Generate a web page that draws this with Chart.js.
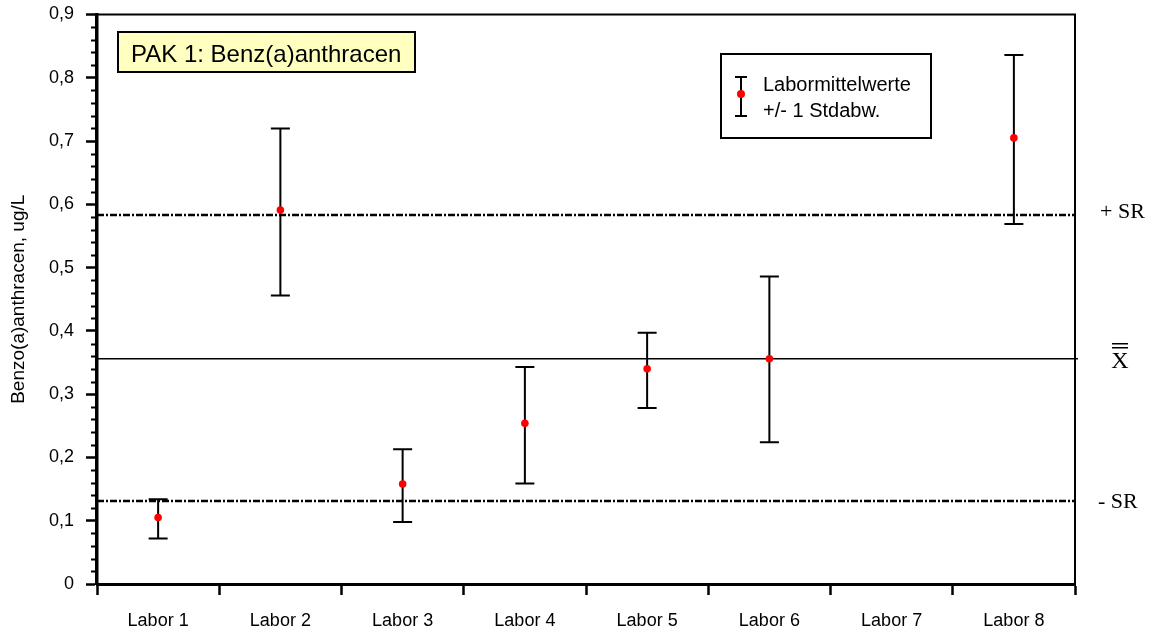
<!DOCTYPE html>
<html>
<head>
<meta charset="utf-8">
<script src="https://cdn.jsdelivr.net/npm/chart.js@4/dist/chart.umd.min.js"></script>
<style>
  html, body { margin: 0; padding: 0; background: #fff; }
  #wrap { width: 1153px; height: 632px; position: relative; }
</style>
</head>
<body>
<div id="wrap"><canvas id="c"></canvas></div>
<script>
// Laboratories and their mean values +/- one standard deviation (ug/L)
const labs = ['Labor 1', 'Labor 2', 'Labor 3', 'Labor 4', 'Labor 5', 'Labor 6', 'Labor 7', 'Labor 8'];
const labMeans = [0.105, 0.591, 0.158, 0.254, 0.340, 0.356, null, 0.705];
const labLower = [0.072, 0.456, 0.098, 0.159, 0.278, 0.224, null, 0.569];
const labUpper = [0.134, 0.720, 0.213, 0.343, 0.397, 0.486, null, 0.836];

// Overall mean and reproducibility band
const grandMean = 0.356;
const srUpper = 0.583;
const srLower = 0.131;

// Y axis: labelled every 0.1, small ticks every 0.02
const yMin = 0;
const yMax = 0.9;
const yStep = 0.02;
const yLabels = ['0', '0,1', '0,2', '0,3', '0,4', '0,5', '0,6', '0,7', '0,8', '0,9'];

const titleText = 'PAK 1: Benz(a)anthracen';
const legendLines = ['Labormittelwerte', '+/- 1 Stdabw.'];
const yTitle = 'Benzo(a)anthracen, ug/L';

const SANS = "'Liberation Sans', Arial, sans-serif";
const SERIF = "'Liberation Serif', 'Times New Roman', serif";
Chart.defaults.font.family = SANS;
Chart.defaults.color = '#000';

const isMajor = v => Math.abs(v * 10 - Math.round(v * 10)) < 1e-6;

const decor = {
  id: 'decor',
  beforeDatasetsDraw(chart) {
    const { ctx, chartArea: a, scales: { x, y } } = chart;
    ctx.save();
    ctx.strokeStyle = '#000';

    // minor ticks on the value axis
    ctx.lineWidth = 2;
    const n = Math.round((yMax - yMin) / yStep);
    for (let k = 0; k <= n; k++) {
      const v = yMin + k * yStep;
      if (isMajor(v)) continue;
      const py = Math.round(y.getPixelForValue(v)) + 0.5;
      ctx.beginPath();
      ctx.moveTo(a.left - 6, py);
      ctx.lineTo(a.left, py);
      ctx.stroke();
    }

    // overall mean
    ctx.lineWidth = 1.5;
    const pm = y.getPixelForValue(grandMean);
    ctx.beginPath();
    ctx.moveTo(a.left, pm);
    ctx.lineTo(a.right + 3, pm);
    ctx.stroke();

    // +/- SR band limits
    ctx.lineWidth = 2.5;
    ctx.setLineDash([7, 2, 2, 2]);
    [srUpper, srLower].forEach(v => {
      const py = y.getPixelForValue(v);
      ctx.beginPath();
      ctx.moveTo(a.left, py);
      ctx.lineTo(a.right, py);
      ctx.stroke();
    });
    ctx.setLineDash([]);

    // error bars
    ctx.lineWidth = 2;
    labMeans.forEach((m, i) => {
      if (m === null) return;
      const px = x.getPixelForValue(i);
      const yl = y.getPixelForValue(labLower[i]);
      const yh = y.getPixelForValue(labUpper[i]);
      ctx.beginPath();
      ctx.moveTo(px, yh);
      ctx.lineTo(px, yl);
      ctx.moveTo(px - 9.5, yh);
      ctx.lineTo(px + 9.5, yh);
      ctx.moveTo(px - 9.5, yl);
      ctx.lineTo(px + 9.5, yl);
      ctx.stroke();
    });
    ctx.restore();
  },
  afterDraw(chart) {
    const { ctx, chartArea: a, scales: { y } } = chart;
    ctx.save();
    ctx.strokeStyle = '#000';
    ctx.fillStyle = '#000';

    // top and right frame
    ctx.lineWidth = 2;
    ctx.beginPath();
    ctx.moveTo(a.left, a.top);
    ctx.lineTo(a.right, a.top);
    ctx.lineTo(a.right, a.bottom);
    ctx.stroke();

    // title box
    ctx.fillStyle = '#ffffc0';
    ctx.fillRect(118, 32, 297, 40);
    ctx.lineWidth = 2;
    ctx.strokeRect(118, 32, 297, 40);
    ctx.fillStyle = '#000';
    ctx.font = '24px ' + SANS;
    ctx.textBaseline = 'alphabetic';
    ctx.textAlign = 'left';
    ctx.fillText(titleText, 131, 62);

    // legend box
    ctx.fillStyle = '#fff';
    ctx.fillRect(721, 54, 210, 84);
    ctx.strokeRect(721, 54, 210, 84);
    ctx.lineWidth = 2;
    ctx.beginPath();
    ctx.moveTo(741, 77); ctx.lineTo(741, 116);
    ctx.moveTo(735, 77); ctx.lineTo(747, 77);
    ctx.moveTo(735, 116); ctx.lineTo(747, 116);
    ctx.stroke();
    ctx.fillStyle = '#ff0000';
    ctx.beginPath();
    ctx.arc(741, 94, 4, 0, Math.PI * 2);
    ctx.fill();
    ctx.fillStyle = '#000';
    ctx.font = '20px ' + SANS;
    ctx.fillText(legendLines[0], 763, 91);
    ctx.fillText(legendLines[1], 763, 117);

    // labels for the reference lines
    ctx.font = '22px ' + SERIF;
    ctx.textBaseline = 'middle';
    ctx.fillText('+ SR', 1100, y.getPixelForValue(srUpper) - 3);
    ctx.fillText('- SR', 1098, y.getPixelForValue(srLower) + 1);
    const pm = y.getPixelForValue(grandMean);
    ctx.font = '24px ' + SERIF;
    ctx.textAlign = 'center';
    ctx.fillText('X', 1120, pm + 3);
    ctx.lineWidth = 1.5;
    ctx.beginPath();
    ctx.moveTo(1112, pm - 15); ctx.lineTo(1128, pm - 15);
    ctx.moveTo(1112, pm - 11); ctx.lineTo(1128, pm - 11);
    ctx.stroke();
    ctx.restore();
  }
};

new Chart(document.getElementById('c'), {
  type: 'line',
  data: {
    labels: labs,
    datasets: [{
      label: legendLines.join(' '),
      data: labMeans,
      showLine: false,
      pointRadius: 3.8,
      pointHoverRadius: 3.8,
      pointBackgroundColor: '#ff0000',
      pointBorderColor: '#ff0000',
      pointBorderWidth: 0,
      borderColor: '#ff0000'
    }]
  },
  options: {
    responsive: true,
    maintainAspectRatio: false,
    animation: false,
    events: [],
    layout: { padding: { left: 0, right: 78, top: 14.5, bottom: 0 } },
    plugins: { legend: { display: false }, tooltip: { enabled: false } },
    scales: {
      x: {
        type: 'category',
        offset: true,
        grid: {
          offset: true,
          drawOnChartArea: false,
          drawTicks: true,
          tickLength: 11,
          tickWidth: 2.5,
          tickColor: '#000'
        },
        border: { display: true, color: '#000', width: 3 },
        ticks: { font: { size: 18 }, color: '#000', padding: 15, maxRotation: 0, autoSkip: false },
        afterFit(s) {
          s.height = 48;
          s.paddingLeft = s.paddingRight = s.paddingTop = s.paddingBottom = 0;
        }
      },
      y: {
        min: yMin,
        max: yMax,
        grid: {
          drawOnChartArea: false,
          drawTicks: true,
          tickLength: 11,
          tickWidth: 2.5,
          tickColor: c => isMajor(c.tick.value) ? '#000' : 'rgba(0,0,0,0)'
        },
        border: { display: true, color: '#000', width: 3.5 },
        ticks: {
          stepSize: yStep,
          autoSkip: false,
          font: { size: 18 },
          color: '#000',
          padding: 12,
          callback: v => isMajor(v) ? yLabels[Math.round(v * 10)] : ''
        },
        title: {
          display: true,
          text: yTitle,
          font: { size: 19 },
          color: '#000',
          padding: { top: 7, bottom: 0 }
        },
        afterFit(s) {
          s.width = 97;
          s.paddingLeft = s.paddingRight = s.paddingTop = s.paddingBottom = 0;
        }
      }
    }
  },
  plugins: [decor]
});
</script>
</body>
</html>
